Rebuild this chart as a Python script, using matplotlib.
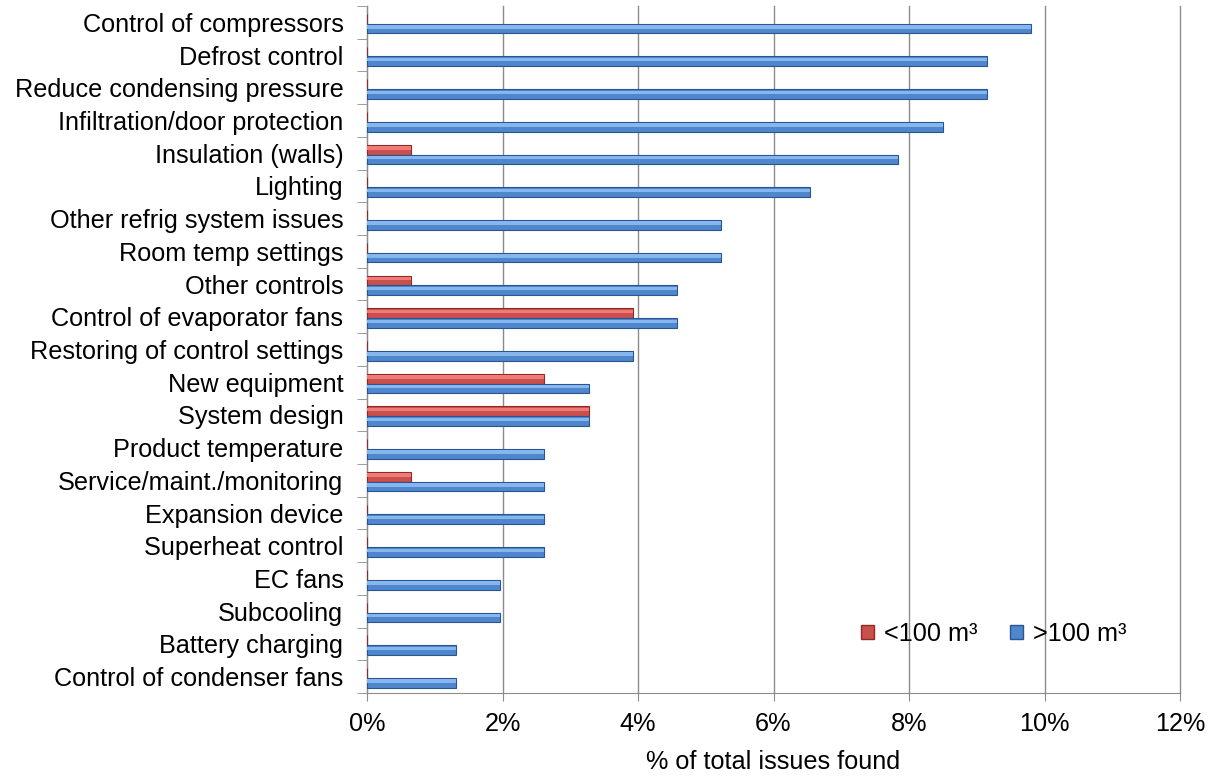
import matplotlib
matplotlib.use("Agg")
import matplotlib.pyplot as plt
import numpy as np
from matplotlib.ticker import FuncFormatter, FixedLocator
from matplotlib.patches import Patch

plt.rcParams['font.family'] = ['Liberation Sans', 'DejaVu Sans']

categories = [
    "Control of compressors", "Defrost control", "Reduce condensing pressure",
    "Infiltration/door protection", "Insulation (walls)", "Lighting",
    "Other refrig system issues", "Room temp settings", "Other controls",
    "Control of evaporator fans", "Restoring of control settings", "New equipment",
    "System design", "Product temperature", "Service/maint./monitoring",
    "Expansion device", "Superheat control", "EC fans", "Subcooling",
    "Battery charging", "Control of condenser fans",
]
small_rooms = [0, 0, 0, 0, 0.65, 0, 0, 0, 0.65, 3.92, 0, 2.61, 3.27, 0, 0.65,
               0, 0, 0, 0, 0, 0]
large_rooms = [9.80, 9.15, 9.15, 8.50, 7.84, 6.54, 5.23, 5.23, 4.58, 4.58, 3.92,
               3.27, 3.27, 2.61, 2.61, 2.61, 2.61, 1.96, 1.96, 1.31, 1.31]
series_labels = ["<100 m³", ">100 m³"]
xticks = [0, 2, 4, 6, 8, 10, 12]

fig = plt.figure(figsize=(12.17, 7.78), dpi=100)
ax = fig.add_axes([367/1217, 1-693/778, (1180-367)/1217, (693-6)/778])

y = np.arange(len(categories))
h = 0.3
red_main, red_light, red_dark = "#C9504C", "#F07A76", "#8E2A28"
blue_main, blue_light, blue_dark = "#4F86CC", "#86B6EE", "#2A5590"

small = np.array(small_rooms)
large = np.array(large_rooms)
ys = y - h/2 + 0.04
yl = y + h/2 + 0.04
ax.barh(ys, small, height=h, color=red_main, edgecolor=red_dark, linewidth=0.8, zorder=3)
ax.barh(ys - h*0.18, small, height=h*0.35, color=red_light, linewidth=0, zorder=4)
ax.barh(yl, large, height=h, color=blue_main, edgecolor=blue_dark, linewidth=0.8, zorder=3)
ax.barh(yl - h*0.18, large, height=h*0.35, color=blue_light, linewidth=0, zorder=4)

ax.set_ylim(len(categories) - 0.5, -0.5)
ax.set_xlim(0, 12)
ax.xaxis.set_major_locator(FixedLocator(xticks))
ax.xaxis.set_major_formatter(FuncFormatter(lambda v, p: f"{v:.0f}%"))
ax.set_yticks(y)
ax.set_yticklabels(categories, fontsize=18.2)
ax.tick_params(axis='y', which='major', length=0, pad=17)
ax.set_yticks(np.arange(-0.5, len(categories) + 0.5, 1), minor=True)
ax.tick_params(axis='y', which='minor', length=7, color='#8C8C8C', direction='out')
ax.tick_params(axis='x', length=6, color='#8C8C8C', labelsize=18.2, pad=8)
ax.grid(axis='x', color='#8C8C8C', linewidth=1, zorder=0)
for gl in ax.get_xgridlines():
    gl.set_clip_on(False)
ax.set_axisbelow(True)
for s in ['top', 'right']:
    ax.spines[s].set_visible(False)
for s in ['left', 'bottom']:
    ax.spines[s].set_color('#8C8C8C')
ax.set_xlabel("% of total issues found", fontsize=18.2, labelpad=10)

handles = [Patch(facecolor=red_main, edgecolor=red_dark), Patch(facecolor=blue_main, edgecolor=blue_dark)]
ax.legend(handles, series_labels, loc='lower right', bbox_to_anchor=(0.962, 0.035), ncol=2,
          frameon=False, fontsize=18.2, handlelength=0.5, handleheight=0.5, columnspacing=1.3,
          handletextpad=0.4)

fig.savefig("out.png", dpi=100)
